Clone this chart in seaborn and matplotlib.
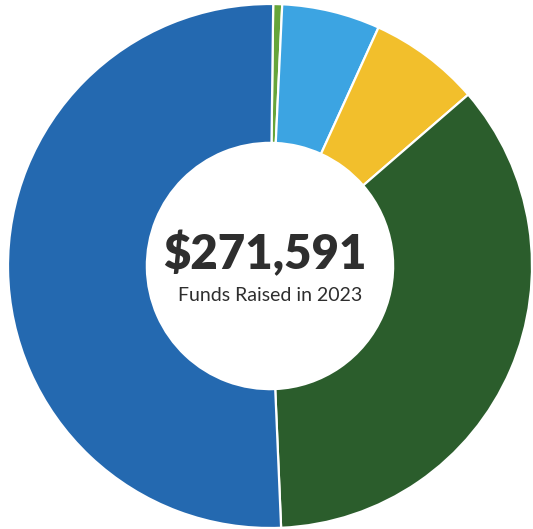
import matplotlib
matplotlib.use("Agg")
import matplotlib.pyplot as plt
import seaborn as sns

sns.set_theme(style="white")
plt.rcParams['font.family'] = ['Lato', 'DejaVu Sans']

categories = ["Other", "Grants", "Events", "Corporate", "Individuals"]
shares = [0.55, 6.05, 6.86, 35.67, 50.87]
colors = ["#66a53a", "#3ca4e2", "#f2bf2c", "#2b5d2c", "#2469b0"]
total_label = "$271,591"
subtitle = "Funds Raised in 2023"

fig = plt.figure(figsize=(5.33, 5.29), dpi=100)
ax = fig.add_axes([0, 0, 1, 1])
ax.pie(shares, colors=colors, startangle=89.3, counterclock=False,
       radius=1.0, wedgeprops=dict(width=0.53, edgecolor="white", linewidth=1.6))
ax.set_xlim(-270/262, 263/262)
ax.set_ylim(-263/262, 266/262)
ax.set_aspect("auto")
ax.axis("off")

ax.text(-0.02, 0.046, total_label, ha="center", va="center",
        fontsize=34, fontweight="heavy", color="#2e2e2e")
ax.text(0.0, -0.112, subtitle, ha="center", va="center",
        fontsize=14, color="#2e2e2e")

fig.savefig("out.png", dpi=100, facecolor="white")
